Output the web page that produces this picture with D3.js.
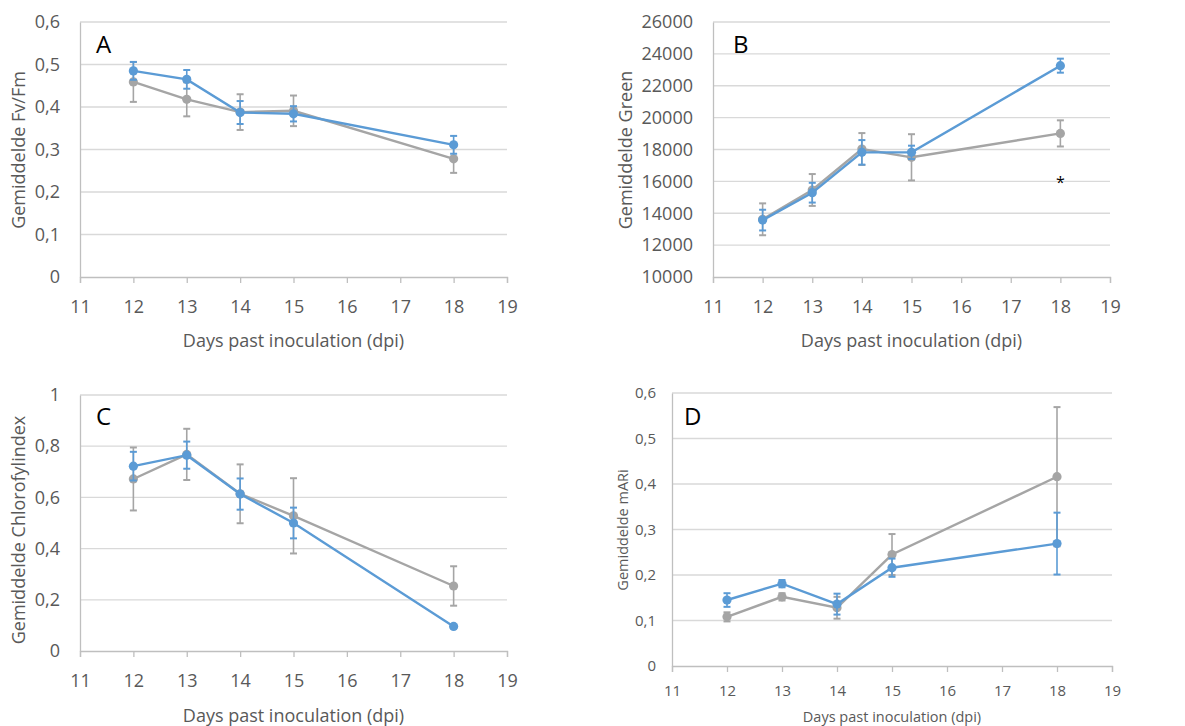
<!DOCTYPE html>
<html>
<head>
<meta charset="utf-8">
<title>Fv/Fm, Green, Chlorofylindex, mARi</title>
<script src="https://d3js.org/d3.v7.min.js"></script>
<style>
  body { margin: 0; background: #fff; }
  text { font-family: "Open Sans", "Noto Sans", sans-serif; }
</style>
</head>
<body>
<svg id="chart" width="1185" height="726"></svg>
<script>
// days past inoculation
var days = [12, 13, 14, 15, 18];
var xTicks = [11, 12, 13, 14, 15, 16, 17, 18, 19];

// A: Fv/Fm
var fvfmBlue = [0.485, 0.465, 0.387, 0.384, 0.311];
var fvfmBlueErr = [0.021, 0.022, 0.027, 0.018, 0.021];
var fvfmGrey = [0.459, 0.418, 0.388, 0.391, 0.278];
var fvfmGreyErr = [0.047, 0.04, 0.042, 0.036, 0.033];

// B: Green
var greenBlue = [13570, 15290, 17820, 17820, 23260];
var greenBlueErr = [650, 620, 770, 420, 440];
var greenGrey = [13620, 15460, 18030, 17510, 19010];
var greenGreyErr = [1000, 1000, 1000, 1450, 820];

// C: Chlorofylindex
var chlBlue = [0.722, 0.765, 0.613, 0.5, 0.096];
var chlBlueErr = [0.056, 0.053, 0.061, 0.06, 0.006];
var chlGrey = [0.672, 0.768, 0.614, 0.528, 0.254];
var chlGreyErr = [0.123, 0.1, 0.115, 0.147, 0.077];

// D: mARi
var mariBlue = [0.145, 0.181, 0.136, 0.216, 0.269];
var mariBlueErr = [0.015, 0.008, 0.023, 0.02, 0.068];
var mariGrey = [0.108, 0.152, 0.128, 0.245, 0.416];
var mariGreyErr = [0.01, 0.008, 0.024, 0.045, 0.153];

var BLUE = "#5b9bd5", GREY = "#a5a5a5";
var svg = d3.select("#chart");
var fmtComma = function(d) { return String(d).replace(".", ","); };

function drawPanel(p) {
  var g = svg.append("g");
  var x = d3.scaleLinear().domain([11, 19]).range([p.left, p.right]);
  var y = d3.scaleLinear().domain(p.yDomain).range([p.bottom, p.top]);

  // gridlines
  g.selectAll("line.grid").data(p.yTicks.slice(1)).enter().append("line")
    .attr("x1", p.left).attr("x2", p.right)
    .attr("y1", function(d) { return y(d); }).attr("y2", function(d) { return y(d); })
    .attr("stroke", "#d9d9d9").attr("stroke-width", 1.3);

  // x axis
  var xa = d3.axisBottom(x).tickValues(xTicks).tickSize(6).tickPadding(p.xPad).tickFormat(d3.format("d"));
  var xg = g.append("g").attr("transform", "translate(0," + p.bottom + ")").call(xa);
  xg.select(".domain").attr("stroke", "#bfbfbf").attr("stroke-width", 1.3);
  xg.selectAll(".tick line").attr("stroke", "#bfbfbf").attr("stroke-width", 1.3);
  xg.selectAll(".tick text").attr("fill", "#595959").style("font-size", p.tickSize + "px")
    .style("font-family", "'Open Sans', sans-serif");

  // y axis
  var ya = d3.axisLeft(y).tickValues(p.yTicks).tickSize(0).tickPadding(p.yPad).tickFormat(p.fmt);
  var yg = g.append("g").attr("transform", "translate(" + p.left + ",0)").call(ya);
  yg.select(".domain").attr("stroke", "#bfbfbf").attr("stroke-width", 1.3);
  yg.selectAll(".tick text").attr("fill", "#595959").style("font-size", p.tickSize + "px")
    .style("font-family", "'Open Sans', sans-serif");

  // axis titles
  g.append("text").attr("x", (p.left + p.right) / 2).attr("y", p.xTitleY)
    .attr("text-anchor", "middle").attr("fill", "#595959")
    .style("font-size", p.titleSize + "px").text("Days past inoculation (dpi)");
  g.append("text")
    .attr("transform", "translate(" + p.yTitleX + "," + p.yTitleY + ") rotate(-90)")
    .attr("text-anchor", "middle").attr("fill", "#595959")
    .style("font-size", p.titleSize + "px").text(p.yTitle);

  // panel letter
  g.append("text").attr("x", p.letterX).attr("y", p.letterY)
    .attr("fill", "#000").style("font-size", "24px").text(p.letter);

  // series: grey first, blue on top
  [{v: p.grey, e: p.greyErr, c: GREY}, {v: p.blue, e: p.blueErr, c: BLUE}].forEach(function(s) {
    var pts = days.map(function(d, i) { return {d: d, v: s.v[i], e: s.e[i]}; });
    var line = d3.line().x(function(d) { return x(d.d); }).y(function(d) { return y(d.v); });
    g.append("path").datum(pts).attr("d", line).attr("fill", "none")
      .attr("stroke", s.c).attr("stroke-width", 2.4);
    var eb = g.selectAll(null).data(pts).enter().append("g").attr("stroke", s.c).attr("stroke-width", 1.6);
    eb.append("line").attr("x1", function(d) { return x(d.d); }).attr("x2", function(d) { return x(d.d); })
      .attr("y1", function(d) { return y(d.v - d.e); }).attr("y2", function(d) { return y(d.v + d.e); });
    eb.append("line").attr("x1", function(d) { return x(d.d) - 3.5; }).attr("x2", function(d) { return x(d.d) + 3.5; })
      .attr("y1", function(d) { return y(d.v + d.e); }).attr("y2", function(d) { return y(d.v + d.e); })
      .attr("stroke-width", 2);
    eb.append("line").attr("x1", function(d) { return x(d.d) - 3.5; }).attr("x2", function(d) { return x(d.d) + 3.5; })
      .attr("y1", function(d) { return y(d.v - d.e); }).attr("y2", function(d) { return y(d.v - d.e); })
      .attr("stroke-width", 2);
    g.selectAll(null).data(pts).enter().append("circle")
      .attr("cx", function(d) { return x(d.d); }).attr("cy", function(d) { return y(d.v); })
      .attr("r", 4.6).attr("fill", s.c);
  });

  if (p.star) {
    g.append("text").attr("x", x(p.star[0])).attr("y", y(p.star[1]) + 8)
      .attr("text-anchor", "middle").attr("fill", "#000").style("font-size", "16px").text("*");
  }
}

drawPanel({
  left: 80, right: 507, top: 22, bottom: 277, yDomain: [0, 0.6],
  yTicks: [0, 0.1, 0.2, 0.3, 0.4, 0.5, 0.6], fmt: fmtComma,
  tickSize: 18, titleSize: 18, xPad: 17, yPad: 20,
  xTitleY: 347, yTitleX: 25, yTitleY: 150, yTitle: "Gemiddelde Fv/Fm",
  letter: "A", letterX: 96, letterY: 53,
  blue: fvfmBlue, blueErr: fvfmBlueErr, grey: fvfmGrey, greyErr: fvfmGreyErr
});

drawPanel({
  left: 713, right: 1110, top: 22, bottom: 277, yDomain: [10000, 26000],
  yTicks: [10000, 12000, 14000, 16000, 18000, 20000, 22000, 24000, 26000], fmt: d3.format("d"),
  tickSize: 18, titleSize: 18, xPad: 17, yPad: 20,
  xTitleY: 347, yTitleX: 632, yTitleY: 150, yTitle: "Gemiddelde Green",
  letter: "B", letterX: 733, letterY: 53, star: [18, 16100],
  blue: greenBlue, blueErr: greenBlueErr, grey: greenGrey, greyErr: greenGreyErr
});

drawPanel({
  left: 80, right: 507, top: 395, bottom: 651, yDomain: [0, 1],
  yTicks: [0, 0.2, 0.4, 0.6, 0.8, 1], fmt: fmtComma,
  tickSize: 18, titleSize: 18, xPad: 17, yPad: 20,
  xTitleY: 722, yTitleX: 25, yTitleY: 530, yTitle: "Gemiddelde Chlorofylindex",
  letter: "C", letterX: 96, letterY: 425,
  blue: chlBlue, blueErr: chlBlueErr, grey: chlGrey, greyErr: chlGreyErr
});

drawPanel({
  left: 672, right: 1112, top: 393, bottom: 666, yDomain: [0, 0.6],
  yTicks: [0, 0.1, 0.2, 0.3, 0.4, 0.5, 0.6], fmt: fmtComma,
  tickSize: 15, titleSize: 14.5, xPad: 13, yPad: 16,
  xTitleY: 722, yTitleX: 628, yTitleY: 530, yTitle: "Gemiddelde mARi",
  letter: "D", letterX: 684, letterY: 425,
  blue: mariBlue, blueErr: mariBlueErr, grey: mariGrey, greyErr: mariGreyErr
});
</script>
</body>
</html>
